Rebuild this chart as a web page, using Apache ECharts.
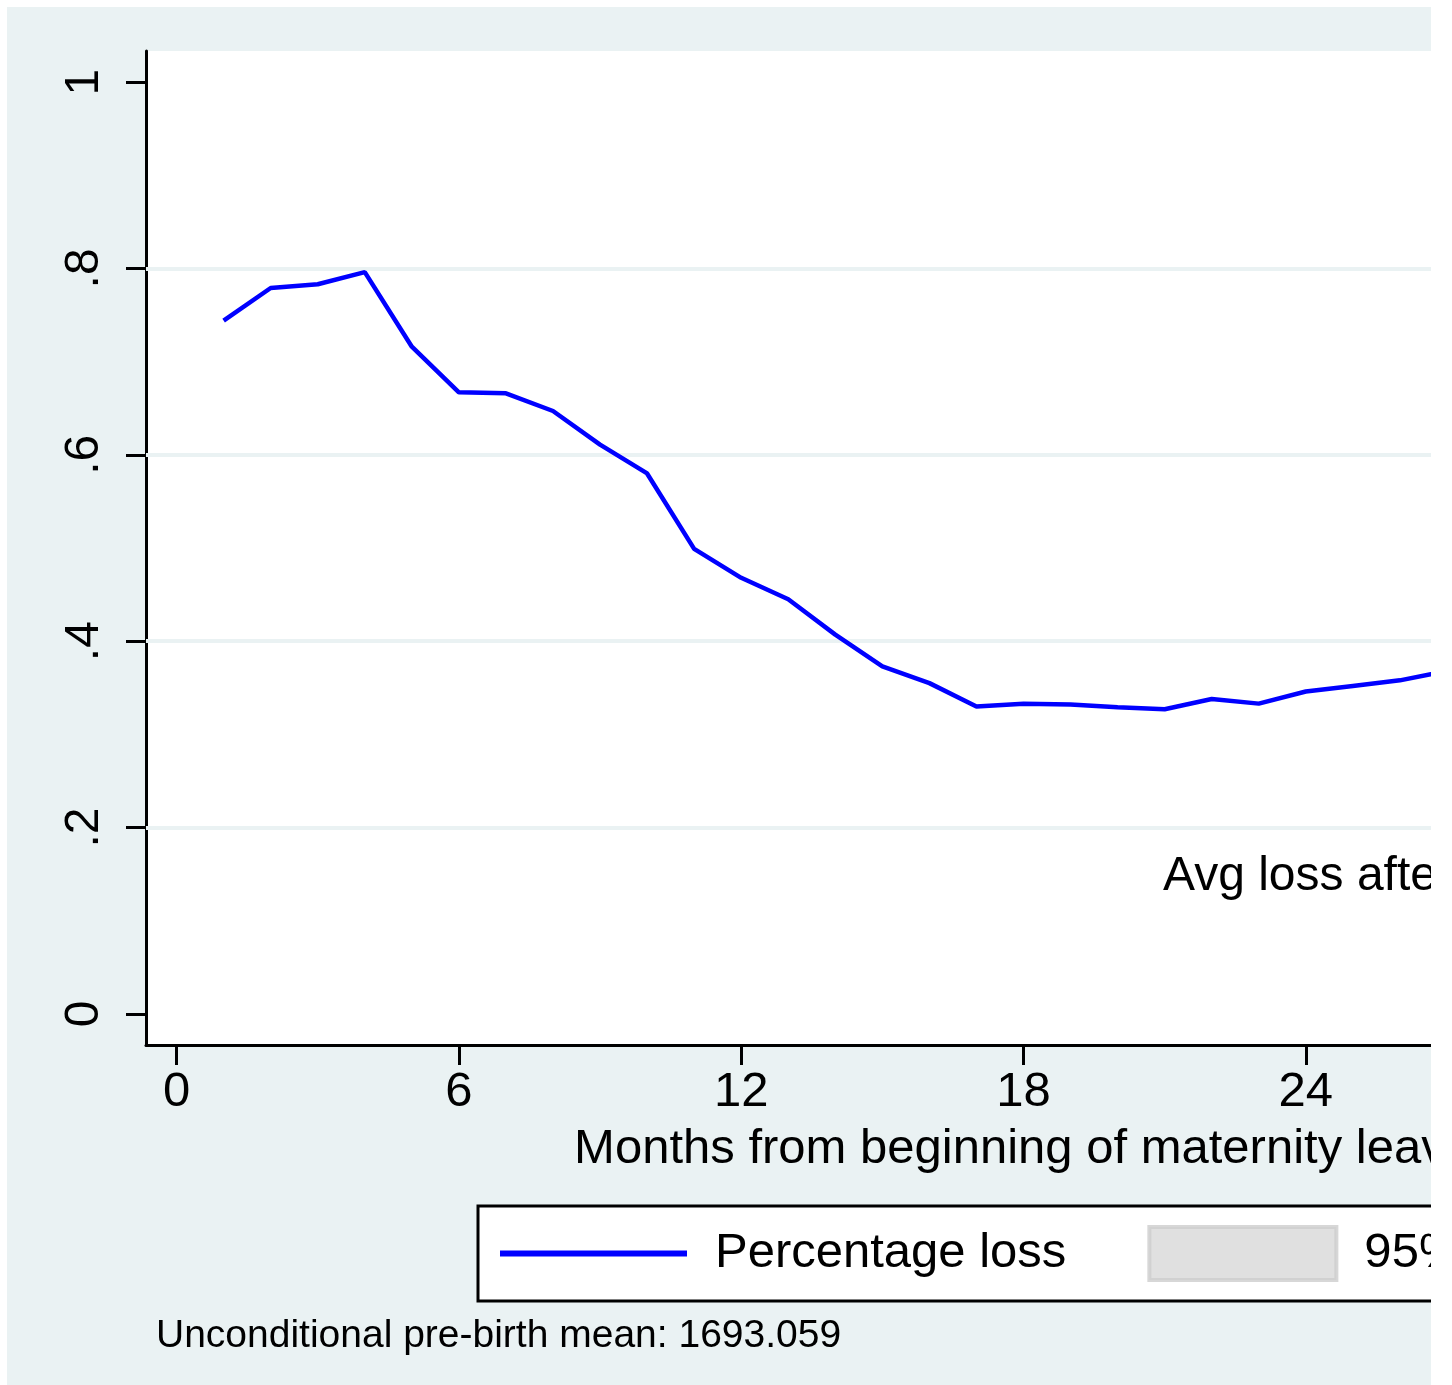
<!DOCTYPE html>
<html>
<head>
<meta charset="utf-8">
<title>Percentage loss by months from beginning of maternity leave</title>
<script src="https://cdn.jsdelivr.net/npm/echarts@6/dist/echarts.min.js"></script>
<style>
  html, body { margin: 0; padding: 0; background: #ffffff; }
  #frame {
    position: absolute; left: 7px; top: 7px;
    width: 1424px; height: 1378px;
    overflow: hidden; background: #eaf2f3;
  }
  #chart { position: absolute; left: 0; top: 0; width: 1960px; height: 1378px; }
</style>
</head>
<body>
<div id="frame"><div id="chart"></div></div>
<script>
// Months since the start of maternity leave
const months = [1, 2, 3, 4, 5, 6, 7, 8, 9, 10, 11, 12, 13, 14, 15, 16, 17, 18, 19, 20, 21, 22, 23, 24, 25, 26, 27];
// Percentage loss relative to the pre-birth mean
const pctLoss = [0.744, 0.779, 0.783, 0.796, 0.716, 0.667, 0.666, 0.647, 0.611, 0.580,
                 0.499, 0.468, 0.445, 0.407, 0.373, 0.355, 0.330, 0.333, 0.332, 0.329,
                 0.327, 0.338, 0.333, 0.346, 0.352, 0.358, 0.368];
// Axis ticks and labels
const xTicks = [0, 6, 12, 18, 24, 30, 36];
const yTicks = [0, 0.2, 0.4, 0.6, 0.8, 1];
const yTickLabels = ['0', '.2', '.4', '.6', '.8', '1'];
const yGridValues = [0.2, 0.4, 0.6, 0.8];
// Text
const seriesNames = ['Percentage loss', '95% CI'];
const xTitle = 'Months from beginning of maternity leave';
const noteText = 'Unconditional pre-birth mean: 1693.059';
const annotationText = 'Avg loss after';

const FONT = 'Liberation Sans, Arial, sans-serif';
const BG = '#eaf2f3';

const chart = echarts.init(document.getElementById('chart'), null, { renderer: 'canvas' });

const yLabelOf = v => {
  const i = yTicks.findIndex(t => Math.abs(t - v) < 1e-6);
  return i >= 0 ? yTickLabels[i] : '';
};

chart.setOption({
  animation: false,
  backgroundColor: BG,
  textStyle: { fontFamily: FONT, color: '#000' },
  grid: {
    left: 139, top: 44, width: 1755, height: 994,
    show: true, backgroundColor: '#ffffff', borderWidth: 0,
    containLabel: false, outerBoundsMode: 'none'
  },
  xAxis: {
    type: 'value', min: -0.65, max: 36.65,
    name: xTitle, nameLocation: 'middle', nameGap: 80, nameMoveOverlap: false,
    nameTextStyle: { fontFamily: FONT, fontSize: 49, color: '#000' },
    axisLine: { show: true, onZero: false, lineStyle: { color: '#000', width: 3 } },
    axisTick: { show: true, customValues: xTicks, length: 20, lineStyle: { color: '#000', width: 3 } },
    axisLabel: { customValues: xTicks, fontFamily: FONT, fontSize: 49, color: '#000', margin: 23 },
    splitLine: { show: false }
  },
  yAxis: {
    type: 'value', min: -0.0333, max: 1.0333,
    axisLine: { show: true, onZero: false, lineStyle: { color: '#000', width: 3 } },
    axisTick: { show: true, customValues: yTicks, length: 20, lineStyle: { color: '#000', width: 3 } },
    axisLabel: {
      customValues: yTicks, rotate: 90, fontFamily: FONT, fontSize: 48, color: '#000', margin: 37,
      formatter: v => yLabelOf(v)
    },
    splitLine: { show: false }
  },
  legend: {
    left: 471, top: 1199,
    orient: 'horizontal',
    padding: [19, 20, 19, 22],
    borderColor: '#000', borderWidth: 3, backgroundColor: '#ffffff',
    itemWidth: 187, itemHeight: 53, itemGap: 81,
    selectedMode: false,
    textStyle: { fontFamily: FONT, fontSize: 49, color: '#000', padding: [0, 0, 0, 23] },
    data: [
      { name: seriesNames[0], icon: 'path://M0 0H31V1H0Z', itemStyle: { color: '#0000ff', borderWidth: 0 } },
      { name: seriesNames[1], icon: 'rect', itemStyle: { color: '#d8d8d8', borderColor: '#cdcdcd', borderWidth: 4 } }
    ]
  },
  series: [
    {
      name: seriesNames[1],
      type: 'scatter',
      data: [],
      itemStyle: { color: '#d8d8d8', borderColor: '#cdcdcd', borderWidth: 4 },
      markLine: {
        silent: true, z: 1, animation: false,
        symbol: ['none', 'none'],
        label: { show: false },
        lineStyle: { color: BG, width: 4, type: 'solid' },
        emphasis: { disabled: true },
        data: yGridValues.map(v => ({ yAxis: v }))
      }
    },
    {
      name: seriesNames[0],
      type: 'line',
      z: 3,
      symbol: 'none', showSymbol: false,
      lineStyle: { color: '#0000ff', width: 4.5 },
      itemStyle: { color: '#0000ff' },
      emphasis: { disabled: true },
      data: months.map((m, i) => [m, pctLoss[i]])
    }
  ],
  graphic: [
    {
      type: 'text', x: 1156, y: 870, z: 10,
      style: { text: annotationText, font: '48px ' + FONT, fill: '#000', verticalAlign: 'middle', align: 'left' }
    },
    {
      type: 'text', x: 149, y: 1329, z: 10,
      style: { text: noteText, font: '39px ' + FONT, fill: '#000', verticalAlign: 'middle', align: 'left' }
    }
  ]
});
</script>
</body>
</html>
